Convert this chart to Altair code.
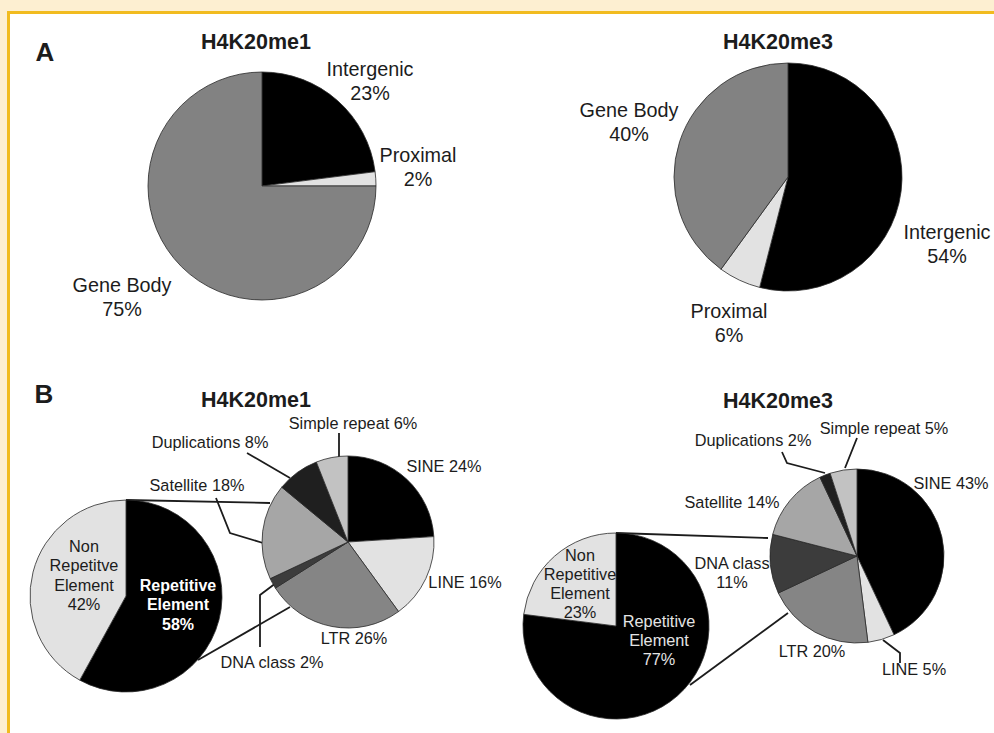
import altair as alt
import pandas as pd

# ---- data -------------------------------------------------------------
# Panel A: genomic location of H4K20 methylation peaks (%)
region_cats = ["Intergenic", "Proximal", "Gene Body"]
me1_region = [23, 2, 75]
me3_region = [54, 6, 40]

# Panel B: share of peaks in repetitive elements (%)
rep_cats = ["Repetitive Element", "Non Repetitive Element"]
me1_rep = [58, 42]
me3_rep = [77, 23]

# Panel B: repeat classes within the repetitive fraction (%)
class_cats = ["SINE", "LINE", "LTR", "DNA class", "Satellite", "Duplications", "Simple repeat"]
me1_class = [24, 16, 26, 2, 18, 8, 6]
me3_class = [43, 5, 20, 11, 14, 2, 5]

# ---- styles -----------------------------------------------------------
FONT = "Liberation Sans, Arial, Helvetica, sans-serif"
INK = "#1c1c1c"
region_fill = {"Intergenic": "#000000", "Proximal": "#e2e2e2", "Gene Body": "#828282"}
rep_fill = {"Repetitive Element": "#000000", "Non Repetitive Element": "#e2e2e2"}
class_fill = {"SINE": "#000000", "LINE": "#e2e2e2", "LTR": "#858585", "DNA class": "#3c3c3c",
              "Satellite": "#a6a6a6", "Duplications": "#1f1f1f", "Simple repeat": "#c2c2c2"}

# pie centres and radii (pixels)
pies = {
    "A1": dict(cx=262, cy=186, r=114),
    "A2": dict(cx=788, cy=177, r=114),
    "B1big": dict(cx=126, cy=596, r=96),
    "B1small": dict(cx=348, cy=542, r=86),
    "B2big": dict(cx=616, cy=626, r=93),
    "B2small": dict(cx=857, cy=556, r=87),
}


def pie_layer(key, cats, values, fills):
    g = pies[key]
    df = pd.DataFrame({"cat": cats, "value": values, "idx": range(len(cats))})
    df["fill"] = df["cat"].map(fills)
    return alt.Chart(df).mark_arc(
        outerRadius=g["r"], stroke="#2a2a2a", strokeWidth=0.8
    ).encode(
        theta=alt.Theta("value:Q", stack=True),
        order=alt.Order("idx:Q"),
        color=alt.Color("fill:N", scale=None),
        x=alt.value(g["cx"]),
        y=alt.value(g["cy"]),
    )


# ---- text -------------------------------------------------------------
rows = []


def add(lines, x, y, lh, size, color=INK, bold=False):
    for i, t in enumerate(lines):
        rows.append(dict(text=t, x=x, y=y + i * lh, size=size, color=color,
                         weight="bold" if bold else "normal"))


# titles and panel letters
add(["A"], 45, 53, 0, 26, bold=True)
add(["B"], 44, 395, 0, 26, bold=True)
add(["H4K20me1"], 256, 43, 0, 21.5, bold=True)
add(["H4K20me3"], 778, 43, 0, 21.5, bold=True)
add(["H4K20me1"], 256, 401, 0, 21.5, bold=True)
add(["H4K20me3"], 778, 402, 0, 21.5, bold=True)

# panel A labels: name over percentage
a1_pos = {"Intergenic": (370, 70), "Proximal": (418, 156), "Gene Body": (122, 286)}
a2_pos = {"Intergenic": (947, 233), "Proximal": (729, 312), "Gene Body": (629, 111)}
for cats, vals, pos in [(region_cats, me1_region, a1_pos), (region_cats, me3_region, a2_pos)]:
    for c, v in zip(cats, vals):
        x, y = pos[c]
        add([c, f"{v}%"], x, y, 24, 19.8)

# panel B, overall repetitive / non-repetitive split
add(["Repetitive", "Element", f"{me1_rep[0]}%"], 178, 586, 19.3, 16, color="#ffffff", bold=True)
add(["Non", "Repetitve", "Element", f"{me1_rep[1]}%"], 84, 547, 19.3, 16.3)
add(["Repetitive", "Element", f"{me3_rep[0]}%"], 659, 622, 19, 16.3, color="#e4e4e4")
add(["Non", "Repetitive", "Element", f"{me3_rep[1]}%"], 580, 556, 19, 16.3)

# panel B, repeat classes
b1_pos = {"SINE": (444, 467), "LINE": (465, 583), "LTR": (354, 639), "DNA class": (272, 663),
          "Satellite": (197, 486), "Duplications": (210, 443), "Simple repeat": (353, 424)}
b2_pos = {"SINE": (951, 484), "LINE": (914, 670), "LTR": (812, 652), "DNA class": (732, 564),
          "Satellite": (732, 503), "Duplications": (753, 441), "Simple repeat": (884, 429)}
for c, v in zip(class_cats, me1_class):
    x, y = b1_pos[c]
    add([f"{c} {v}%"], x, y, 0, 16.3)
for c, v in zip(class_cats, me3_class):
    x, y = b2_pos[c]
    if c == "DNA class":
        add([c, f"{v}%"], x, y, 19, 16.3)
    else:
        add([f"{c} {v}%"], x, y, 0, 16.3)

labels = pd.DataFrame(rows)

# ---- leader and connector lines ----------------------------------------
b1b, b2b = pies["B1big"], pies["B2big"]
paths = {
    "b1_simple": [(339, 433), (339, 457)],
    "b1_dup": [(247, 453), (290, 478)],
    "b1_sat": [(216, 498), (230, 533), (263, 543)],
    "b1_dna": [(260, 647), (260, 595), (280, 580)],
    "b1_top": [(b1b["cx"], b1b["cy"] - b1b["r"]), (270, 503)],
    "b1_bottom": [(198, 660), (290, 607)],
    "b2_simple": [(857, 438), (845, 468)],
    "b2_dup": [(782, 452), (787, 463), (825, 473)],
    "b2_line": [(883, 640), (900, 653), (900, 663)],
    "b2_top": [(b2b["cx"], b2b["cy"] - b2b["r"]), (768, 538)],
    "b2_bottom": [(690, 685), (788, 613)],
}
seg_rows = []
for name, pts in paths.items():
    for k, (x, y) in enumerate(pts):
        seg_rows.append(dict(path=name, k=k, x=x, y=y))
segs = pd.DataFrame(seg_rows)

W, H = 994, 733
CREAM, GOLD = "#fdefd1", "#f1bb1f"

frame_white = alt.Chart(pd.DataFrame({"a": [0]})).mark_rect(color="#ffffff").encode(
    x=alt.value(10), x2=alt.value(W), y=alt.value(14), y2=alt.value(H))
frame_top = alt.Chart(pd.DataFrame({"a": [0]})).mark_rect(color=GOLD).encode(
    x=alt.value(7), x2=alt.value(W), y=alt.value(11), y2=alt.value(14))
frame_left = alt.Chart(pd.DataFrame({"a": [0]})).mark_rect(color=GOLD).encode(
    x=alt.value(7), x2=alt.value(10), y=alt.value(11), y2=alt.value(H))

lines = alt.Chart(segs).mark_line(color=INK, strokeWidth=1.8).encode(
    x=alt.X("x:Q", scale=None, axis=None),
    y=alt.Y("y:Q", scale=None, axis=None),
    detail="path:N",
    order="k:Q",
)

text_enc = dict(
    x=alt.X("x:Q", scale=None, axis=None),
    y=alt.Y("y:Q", scale=None, axis=None),
    text="text:N",
    size=alt.Size("size:Q", scale=None, legend=None),
    color=alt.Color("color:N", scale=None),
)
text_normal = alt.Chart(labels[labels.weight == "normal"]).mark_text(
    font=FONT, baseline="middle", align="center").encode(**text_enc)
text_bold = alt.Chart(labels[labels.weight == "bold"]).mark_text(
    font=FONT, fontWeight="bold", baseline="middle", align="center").encode(**text_enc)

chart = alt.layer(
    frame_white, frame_top, frame_left,
    lines,
    pie_layer("A1", region_cats, me1_region, region_fill),
    pie_layer("A2", region_cats, me3_region, region_fill),
    pie_layer("B1big", rep_cats, me1_rep, rep_fill),
    pie_layer("B1small", class_cats, me1_class, class_fill),
    pie_layer("B2big", rep_cats, me3_rep, rep_fill),
    pie_layer("B2small", class_cats, me3_class, class_fill),
    text_normal, text_bold,
).resolve_scale(theta="independent").properties(
    width=W, height=H, padding=0, autosize="none", background=CREAM
).configure_view(stroke=None)

chart.save("out.html", embed_options={"renderer": "svg", "actions": False})
